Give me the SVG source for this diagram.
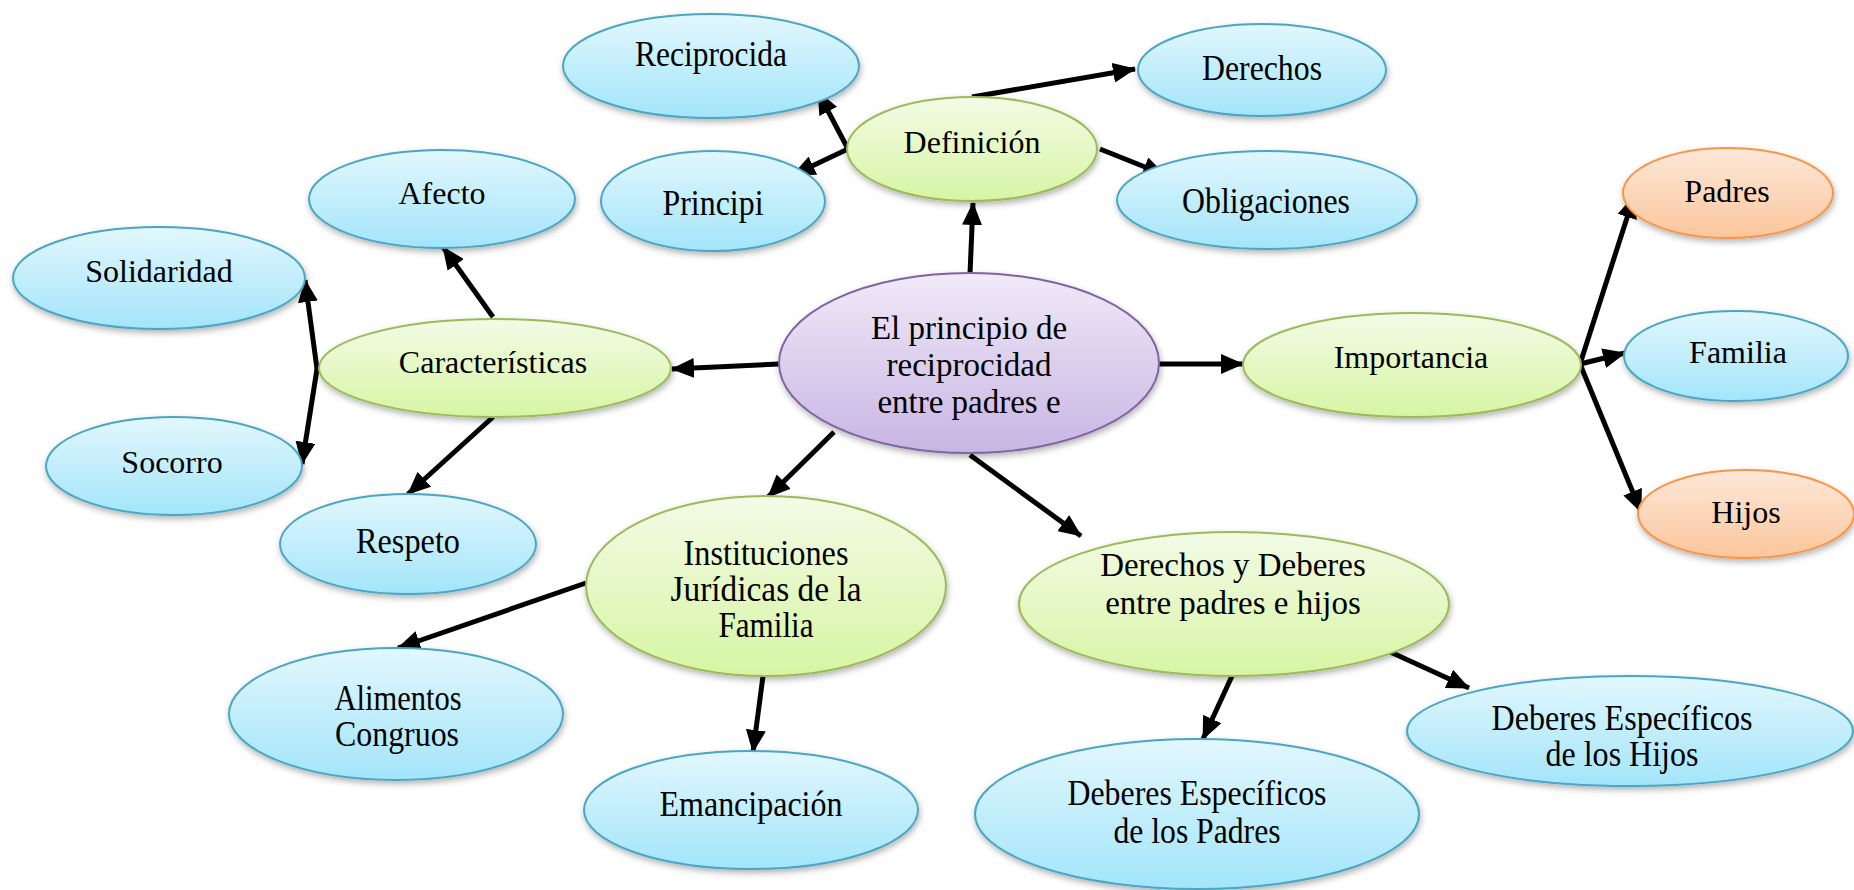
<svg xmlns="http://www.w3.org/2000/svg" width="1854" height="890" viewBox="0 0 1854 890">
<defs>
<linearGradient id="gBlue" x1="0" y1="0" x2="0" y2="1"><stop offset="0" stop-color="#e2f7fd"/><stop offset="1" stop-color="#a3e5fa"/></linearGradient>
<linearGradient id="gGreen" x1="0" y1="0" x2="0" y2="1"><stop offset="0" stop-color="#f3fbe6"/><stop offset="1" stop-color="#d7f5a4"/></linearGradient>
<linearGradient id="gPurple" x1="0" y1="0" x2="0" y2="1"><stop offset="0" stop-color="#f0eaf8"/><stop offset="1" stop-color="#c8b5e3"/></linearGradient>
<linearGradient id="gOrange" x1="0" y1="0" x2="0" y2="1"><stop offset="0" stop-color="#fde8d9"/><stop offset="1" stop-color="#fbc69c"/></linearGradient>
<filter id="sh" x="-10%" y="-10%" width="125%" height="135%"><feDropShadow dx="1" dy="3" stdDeviation="3" flood-color="#000" flood-opacity="0.3"/></filter>
<marker id="ah" markerUnits="userSpaceOnUse" markerWidth="24" markerHeight="20" refX="22" refY="10" orient="auto"><path d="M0,0 L23,10 L0,20 z" fill="#000"/></marker>
<style>
.b{fill:url(#gBlue);stroke:#4aa6c4;stroke-width:2;filter:url(#sh)}
.g{fill:url(#gGreen);stroke:#9bbb59;stroke-width:2;filter:url(#sh)}
.p{fill:url(#gPurple);stroke:#8064a2;stroke-width:2;filter:url(#sh)}
.o{fill:url(#gOrange);stroke:#f79646;stroke-width:2;filter:url(#sh)}
text{font-family:"Liberation Serif","Times New Roman",serif;font-size:32px;fill:#000;text-anchor:middle}
.t{font-size:35px}
.m{font-size:33px}
.c line{stroke:#000;stroke-width:5;marker-end:url(#ah)}
</style>
</defs>
<rect width="1854" height="890" fill="#fff"/>

<g class="c" id="connectors">
<line x1="970" y1="274" x2="973" y2="203"/>
<line x1="1100" y1="149" x2="1165" y2="175"/>
<line x1="972" y1="97" x2="1135" y2="69"/>
<line x1="848" y1="149" x2="818" y2="92"/>
<line x1="848" y1="149" x2="793" y2="175"/>
<line x1="779" y1="364" x2="672" y2="369"/>
<line x1="493" y1="317" x2="443" y2="247"/>
<line x1="317" y1="369" x2="305" y2="280"/>
<line x1="317" y1="369" x2="302" y2="464"/>
<line x1="493" y1="417" x2="408" y2="494"/>
<line x1="834" y1="432" x2="768" y2="497"/>
<line x1="970" y1="455" x2="1081" y2="536"/>
<line x1="1158" y1="364" x2="1243" y2="364"/>
<line x1="1580" y1="364" x2="1634" y2="196"/>
<line x1="1580" y1="364" x2="1625" y2="353"/>
<line x1="1580" y1="364" x2="1641" y2="512"/>
<line x1="586" y1="583" x2="398" y2="648"/>
<line x1="763" y1="676" x2="753" y2="752"/>
<line x1="1232" y1="676" x2="1203" y2="739"/>
<line x1="1386" y1="650" x2="1469" y2="688"/>
</g>

<g id="n-central"><ellipse class="p" cx="969" cy="363" rx="190" ry="90"/>
<text class="m" x="969" y="339">El principio de</text><text class="m" x="969" y="376">reciprocidad</text><text class="m" x="969" y="413">entre padres e</text></g>

<g id="n-definicion"><ellipse class="g" cx="972" cy="149" rx="125" ry="52"/><text x="972" y="153">Definición</text></g>
<g id="n-reciprocida"><ellipse class="b" cx="711" cy="66" rx="148" ry="52"/><text class="t" x="711" y="66" textLength="152" lengthAdjust="spacingAndGlyphs">Reciprocida</text></g>
<g id="n-derechos"><ellipse class="b" cx="1262" cy="70" rx="124" ry="46"/><text class="t" x="1262" y="80" textLength="120" lengthAdjust="spacingAndGlyphs">Derechos</text></g>
<g id="n-principi"><ellipse class="b" cx="713" cy="201" rx="112" ry="50"/><text class="t" x="713" y="215" textLength="101" lengthAdjust="spacingAndGlyphs">Principi</text></g>
<g id="n-obligaciones"><ellipse class="b" cx="1267" cy="200" rx="150" ry="49"/><text class="t" x="1266" y="213" textLength="168" lengthAdjust="spacingAndGlyphs">Obligaciones</text></g>

<g id="n-caracteristicas"><ellipse class="g" cx="495" cy="368" rx="176" ry="49"/><text x="493" y="373">Características</text></g>
<g id="n-afecto"><ellipse class="b" cx="442" cy="199" rx="133" ry="49"/><text x="442" y="204">Afecto</text></g>
<g id="n-solidaridad"><ellipse class="b" cx="159" cy="278" rx="146" ry="51"/><text x="159" y="282">Solidaridad</text></g>
<g id="n-socorro"><ellipse class="b" cx="174" cy="466" rx="128" ry="49"/><text x="172" y="473">Socorro</text></g>
<g id="n-respeto"><ellipse class="b" cx="408" cy="544" rx="128" ry="50"/><text class="t" x="408" y="553" textLength="104" lengthAdjust="spacingAndGlyphs">Respeto</text></g>

<g id="n-importancia"><ellipse class="g" cx="1412" cy="365" rx="169" ry="52"/><text x="1411" y="368">Importancia</text></g>
<g id="n-padres"><ellipse class="o" cx="1728" cy="193" rx="105" ry="45"/><text x="1727" y="202">Padres</text></g>
<g id="n-familia"><ellipse class="b" cx="1736" cy="356" rx="112" ry="45"/><text x="1738" y="363">Familia</text></g>
<g id="n-hijos"><ellipse class="o" cx="1746" cy="514" rx="108" ry="44"/><text x="1746" y="523">Hijos</text></g>

<g id="n-instituciones"><ellipse class="g" cx="766" cy="586" rx="180" ry="90"/>
<text class="t" x="766" y="565" textLength="165" lengthAdjust="spacingAndGlyphs">Instituciones</text>
<text class="t" x="766" y="601" textLength="191" lengthAdjust="spacingAndGlyphs">Jurídicas de la</text>
<text class="t" x="766" y="637" textLength="95" lengthAdjust="spacingAndGlyphs">Familia</text></g>
<g id="n-alimentos"><ellipse class="b" cx="396" cy="714" rx="167" ry="66"/>
<text class="t" x="398" y="710" textLength="127" lengthAdjust="spacingAndGlyphs">Alimentos</text>
<text class="t" x="397" y="746" textLength="124" lengthAdjust="spacingAndGlyphs">Congruos</text></g>
<g id="n-emancipacion"><ellipse class="b" cx="751" cy="810" rx="167" ry="59"/><text class="t" x="751" y="816" textLength="183" lengthAdjust="spacingAndGlyphs">Emancipación</text></g>

<g id="n-derechos-deberes"><ellipse class="g" cx="1234" cy="604" rx="215" ry="72"/>
<text class="m" x="1233" y="576">Derechos y Deberes</text><text class="m" x="1233" y="614">entre padres e hijos</text></g>
<g id="n-de-padres"><ellipse class="b" cx="1197" cy="814" rx="222" ry="75"/>
<text class="t" x="1197" y="805" textLength="259" lengthAdjust="spacingAndGlyphs">Deberes Específicos</text>
<text class="t" x="1197" y="843" textLength="167" lengthAdjust="spacingAndGlyphs">de los Padres</text></g>
<g id="n-de-hijos"><ellipse class="b" cx="1630" cy="731" rx="223" ry="55"/>
<text class="t" x="1622" y="730" textLength="261" lengthAdjust="spacingAndGlyphs">Deberes Específicos</text>
<text class="t" x="1622" y="766" textLength="153" lengthAdjust="spacingAndGlyphs">de los Hijos</text></g>
</svg>
